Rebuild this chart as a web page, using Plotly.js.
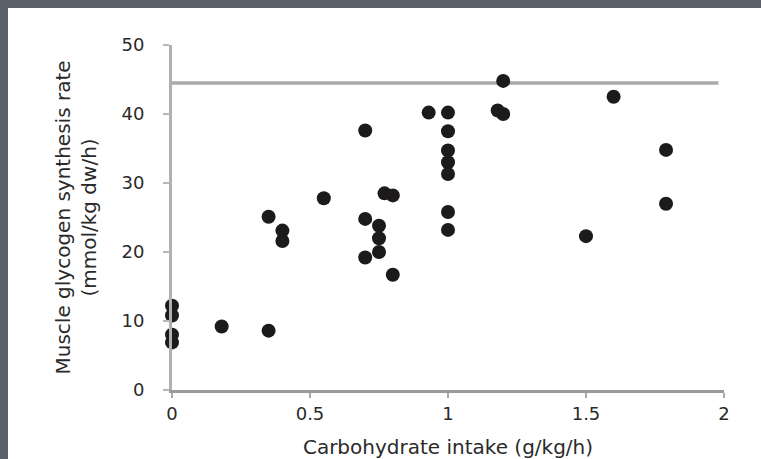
<!DOCTYPE html>
<html>
<head>
<meta charset="utf-8">
<script src="https://cdn.plot.ly/plotly-3.0.1.min.js"></script>
<style>
  html, body { margin: 0; padding: 0; background: #5b606b; width: 761px; height: 459px; overflow: hidden; }
  #chart { position: absolute; left: 8px; top: 8px; width: 753px; height: 451px; background: #ffffff; }
</style>
</head>
<body>
<div id="chart"></div>
<script>
// Carbohydrate intake (g/kg/h)
const carbIntake = [0, 0, 0, 0, 0.18, 0.35, 0.35, 0.4, 0.4, 0.55, 0.7, 0.7, 0.7, 0.75, 0.75, 0.75, 0.77, 0.8, 0.8, 0.93, 1, 1, 1, 1, 1, 1, 1, 1.18, 1.2, 1.2, 1.5, 1.6, 1.79, 1.79];
// Muscle glycogen synthesis rate (mmol/kg dw/h)
const synthesisRate = [12.2, 10.8, 8.0, 6.9, 9.2, 8.6, 25.1, 23.1, 21.6, 27.8, 37.6, 24.8, 19.2, 23.8, 22.0, 20.0, 28.5, 28.2, 16.7, 40.2, 40.2, 37.5, 34.7, 33.0, 31.3, 25.8, 23.2, 40.5, 40.0, 44.8, 22.3, 42.5, 34.8, 27.0];
// Horizontal reference line
const refLineX = [0, 1.98];
const refLineY = [44.5, 44.5];
// Tick labels
const xTickVals = [0, 0.5, 1, 1.5, 2];
const xTickText = ['0', '0.5', '1', '1.5', '2'];
const yTickVals = [0, 10, 20, 30, 40, 50];
const yTickText = ['0', '10', '20', '30', '40', '50'];
// Axis titles
const xTitle = 'Carbohydrate intake (g/kg/h)';
const yTitle = 'Muscle glycogen synthesis rate<br>(mmol/kg dw/h)';

const traces = [
  {
    x: refLineX, y: refLineY, type: 'scatter', mode: 'lines',
    line: { color: '#aaaaaa', width: 3.5 }, hoverinfo: 'skip', showlegend: false
  },
  {
    x: carbIntake, y: synthesisRate, type: 'scatter', mode: 'markers',
    cliponaxis: false,
    marker: { color: '#1c1a1b', size: 14, line: { width: 0 } }, showlegend: false
  }
];

const textFont = { family: 'DejaVu Sans, sans-serif', size: 18, color: '#2a2a2a' };
const titleFont = { family: 'DejaVu Sans, sans-serif', size: 20, color: '#2a2a2a' };

const layout = {
  width: 753, height: 451,
  margin: { l: 164, r: 37, t: 37, b: 69 },
  paper_bgcolor: '#ffffff', plot_bgcolor: '#ffffff',
  showlegend: false,
  font: textFont,
  xaxis: {
    range: [0, 2], tickvals: xTickVals, ticktext: xTickText,
    showgrid: false, zeroline: false,
    showline: true, linecolor: '#9a9a9a', linewidth: 3,
    ticks: 'outside', ticklen: 5, tickwidth: 2, tickcolor: '#aaaaaa',
    ticklabelstandoff: 0,
    tickfont: textFont,
    title: { text: xTitle, font: titleFont },
    automargin: false, fixedrange: true
  },
  yaxis: {
    range: [0, 50], tickvals: yTickVals, ticktext: yTickText,
    showgrid: false, zeroline: false,
    showline: true, linecolor: '#b0b0b0', linewidth: 3,
    ticks: 'outside', ticklen: 6, tickwidth: 2, tickcolor: '#b8b8b8',
    ticklabelstandoff: 15,
    tickfont: textFont,
    automargin: false, fixedrange: true
  },
  annotations: [
    {
      text: yTitle, xref: 'paper', yref: 'paper', x: 0, y: 0.5,
      xanchor: 'center', yanchor: 'middle', xshift: -97,
      textangle: -90, showarrow: false, font: titleFont
    }
  ]
};

Plotly.newPlot('chart', traces, layout, { displayModeBar: false, staticPlot: true });
</script>
</body>
</html>
